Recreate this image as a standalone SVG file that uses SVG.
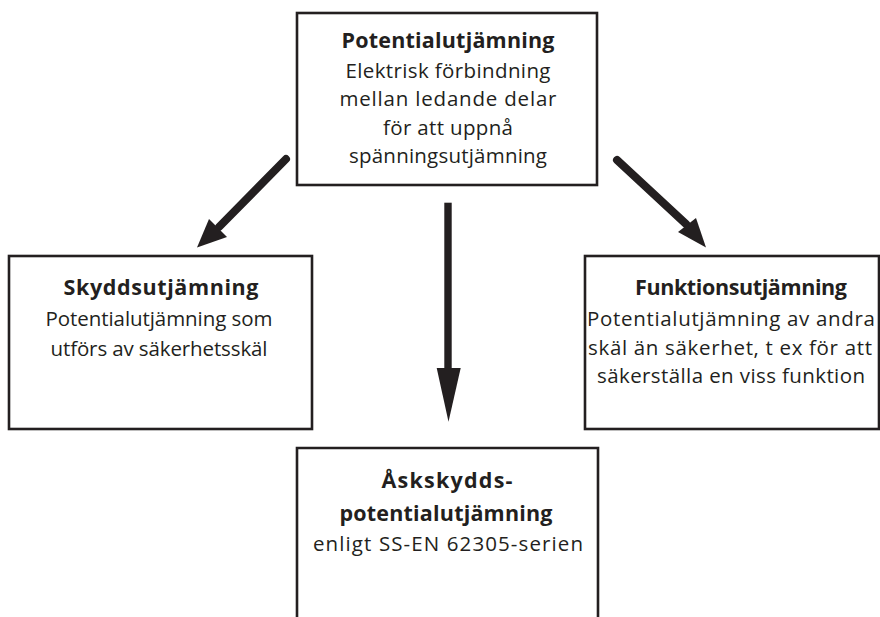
<svg xmlns="http://www.w3.org/2000/svg" width="880" height="617" viewBox="0 0 880 617">
<style>
.box{fill:#fff;stroke:#231f20;stroke-width:2.6}
.t{font-family:"Open Sans","Noto Sans","DejaVu Sans",sans-serif;fill:#231f20;text-anchor:middle}
.b{font-size:21.5px;font-weight:bold}
.r{font-size:20.5px}
.shaft{stroke:#231f20;stroke-width:8;fill:none;stroke-linecap:round}
.head{fill:#231f20}
</style>
<rect width="880" height="617" fill="#fff"/>
<g id="connectors">
<line class="shaft" x1="286" y1="159" x2="219" y2="227"/>
<polygon class="head" points="209,219 227,237 197,247.5"/>
<line class="shaft" x1="617" y1="160" x2="686" y2="224"/>
<polygon class="head" points="678,232 696,218 706,247.5"/>
<rect class="head" x="444.3" y="202.7" width="7.4" height="166"/>
<polygon class="head" points="436.7,368 460.7,368 448.5,421.7"/>
</g>
<g id="node-top">
<rect class="box" x="297" y="13" width="300" height="172"/>
<text class="t b" x="448" y="48" textLength="213">Potentialutjämning</text>
<text class="t r" x="448" y="78" textLength="205">Elektrisk förbindning</text>
<text class="t r" x="448" y="106" textLength="217">mellan ledande delar</text>
<text class="t r" x="448" y="135" textLength="130">för att uppnå</text>
<text class="t r" x="448" y="163" textLength="198">spänningsutjämning</text>
</g>
<g id="node-left">
<rect class="box" x="9" y="256" width="303" height="173"/>
<text class="t b" x="161" y="295" textLength="195">Skyddsutjämning</text>
<text class="t r" x="159" y="326" textLength="227">Potentialutjämning som</text>
<text class="t r" x="159" y="356" textLength="217">utförs av säkerhetsskäl</text>
</g>
<g id="node-right">
<rect class="box" x="585" y="256" width="294" height="173"/>
<text class="t b" x="741" y="295" textLength="212">Funktionsutjämning</text>
<text class="t r" x="731" y="326" textLength="288">Potentialutjämning av andra</text>
<text class="t r" x="730" y="355" textLength="284">skäl än säkerhet, t ex för att</text>
<text class="t r" x="731" y="383" textLength="268">säkerställa en viss funktion</text>
</g>
<g id="node-bottom">
<path class="box" d="M297,620 V448 H598 V620"/>
<text class="t b" x="447" y="488" textLength="131">Åskskydds-</text>
<text class="t b" x="446" y="521" textLength="213">potentialutjämning</text>
<text class="t r" x="448" y="551" textLength="270">enligt SS-EN 62305-serien</text>
</g>
</svg>
